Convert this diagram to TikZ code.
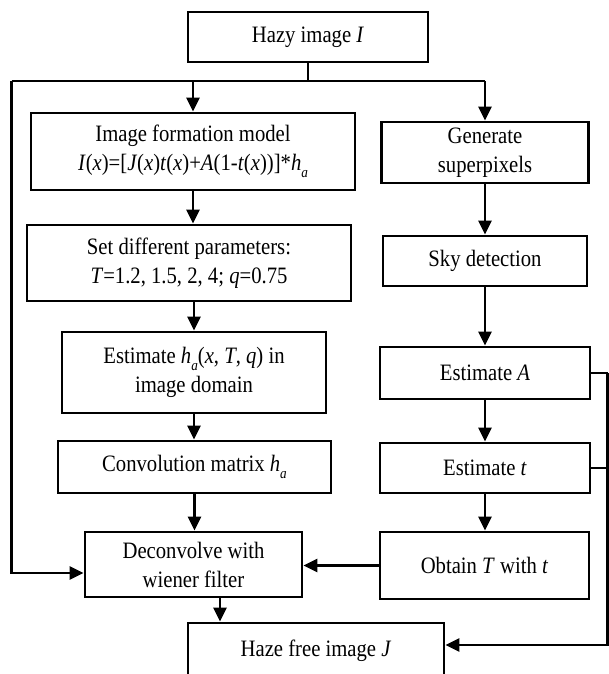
\documentclass[tikz,border=0pt]{standalone}
\usepackage{fontspec}
\setmainfont{Liberation Serif}[FakeStretch=0.88]
\usetikzlibrary{arrows.meta}
\newcommand\hsub{\textit{h}\raisebox{-7pt}{\fontsize{15}{15}\selectfont\textit{a}}}
\tikzset{
  box/.style={draw=black, line width=2.8pt, align=center, inner sep=0pt,
    font=\fontsize{23.5}{29}\selectfont},
  ln/.style={draw=black, line width=2.8pt},
  arr/.style={ln, -{Triangle[length=14pt,width=13pt]}},
}
\begin{document}
\begin{tikzpicture}[x=1pt,y=-1pt]
\useasboundingbox (0,0) rectangle (609,674);
\fill[white] (0,0) rectangle (609,674);
\clip (0,0) rectangle (609,674);
% nodes
\node[box, minimum width=240pt, minimum height=50pt] (hazy) at (308,37) {Hazy image \textit{I}};
\node[box, minimum width=324pt, minimum height=77pt] (form) at (193,151.5)
  {Image formation model\\ \textit{I}(\textit{x})=[\textit{J}(\textit{x})\textit{t}(\textit{x})+\textit{A}(1-\textit{t}(\textit{x}))]*\hsub};
\node[box, minimum width=207pt, minimum height=61pt] (gen) at (485,152.5) {Generate\\ superpixels};
\node[box, minimum width=324pt, minimum height=76pt] (params) at (189,263)
  {Set different parameters:\\ \textit{T}=1.2, 1.5, 2, 4; \textit{q}=0.75};
\node[box, minimum width=204pt, minimum height=50pt] (sky) at (485,261) {Sky detection};
\node[box, minimum width=264pt, minimum height=81pt] (esth) at (194,372.5)
  {Estimate \hsub(\textit{x}, \textit{T}, \textit{q}) in\\ image domain};
\node[box, minimum width=210pt, minimum height=52pt] (estA) at (485,373) {Estimate \textit{A}};
\node[box, minimum width=273pt, minimum height=52pt] (conv) at (194.5,467) {Convolution matrix \hsub};
\node[box, minimum width=210pt, minimum height=50pt] (estt) at (485,468) {Estimate \textit{t}};
\node[box, minimum width=217pt, minimum height=65pt] (deconv) at (193.5,564.5) {Deconvolve with\\ wiener filter};
\node[box, minimum width=209pt, minimum height=67pt] (obtain) at (484.5,565.5) {Obtain \textit{T} with \textit{t}};
\node[box, minimum width=256pt, minimum height=56pt] (haze) at (316,651) {Haze free image \textit{J}};
% helper coordinates
\coordinate (split) at (308,81);
\coordinate (L) at (11.6,81);
\coordinate (yl) at (0,573);
\coordinate (xr) at (607.5,0);
\coordinate (yh) at (0,645);
\coordinate (xd) at (220,0);
% connectors
\draw[ln] (hazy.south) -- (split);
\draw[ln] (L) -- (gen.north |- split);
\draw[arr] (form.north |- split) -- (form.north);
\draw[arr] (gen.north |- split) -- (gen.north);
\draw[arr] (form.south) -- (form.south |- params.north);
\draw[arr] (esth.north |- params.south) -- (esth.north);
\draw[arr] (esth.south) -- (esth.south |- conv.north);
\draw[arr] (conv.south) -- (conv.south |- deconv.north);
\draw[arr] (gen.south) -- (gen.south |- sky.north);
\draw[arr] (sky.south) -- (sky.south |- estA.north);
\draw[arr] (estA.south) -- (estA.south |- estt.north);
\draw[arr] (estt.south) -- (estt.south |- obtain.north);
\draw[arr] (obtain.west) -- (obtain.west -| deconv.east);
\draw[arr] (L) -- (L |- yl) -- (deconv.west |- yl);
\draw[ln] (estA.east) -- (estA.east -| xr);
\draw[ln] (estt.east) -- (estt.east -| xr);
\draw[arr] (estA.east -| xr) -- (xr |- yh) -- (haze.east |- yh);
\draw[arr] (deconv.south -| xd) -- (haze.north -| xd);
\end{tikzpicture}
\end{document}
